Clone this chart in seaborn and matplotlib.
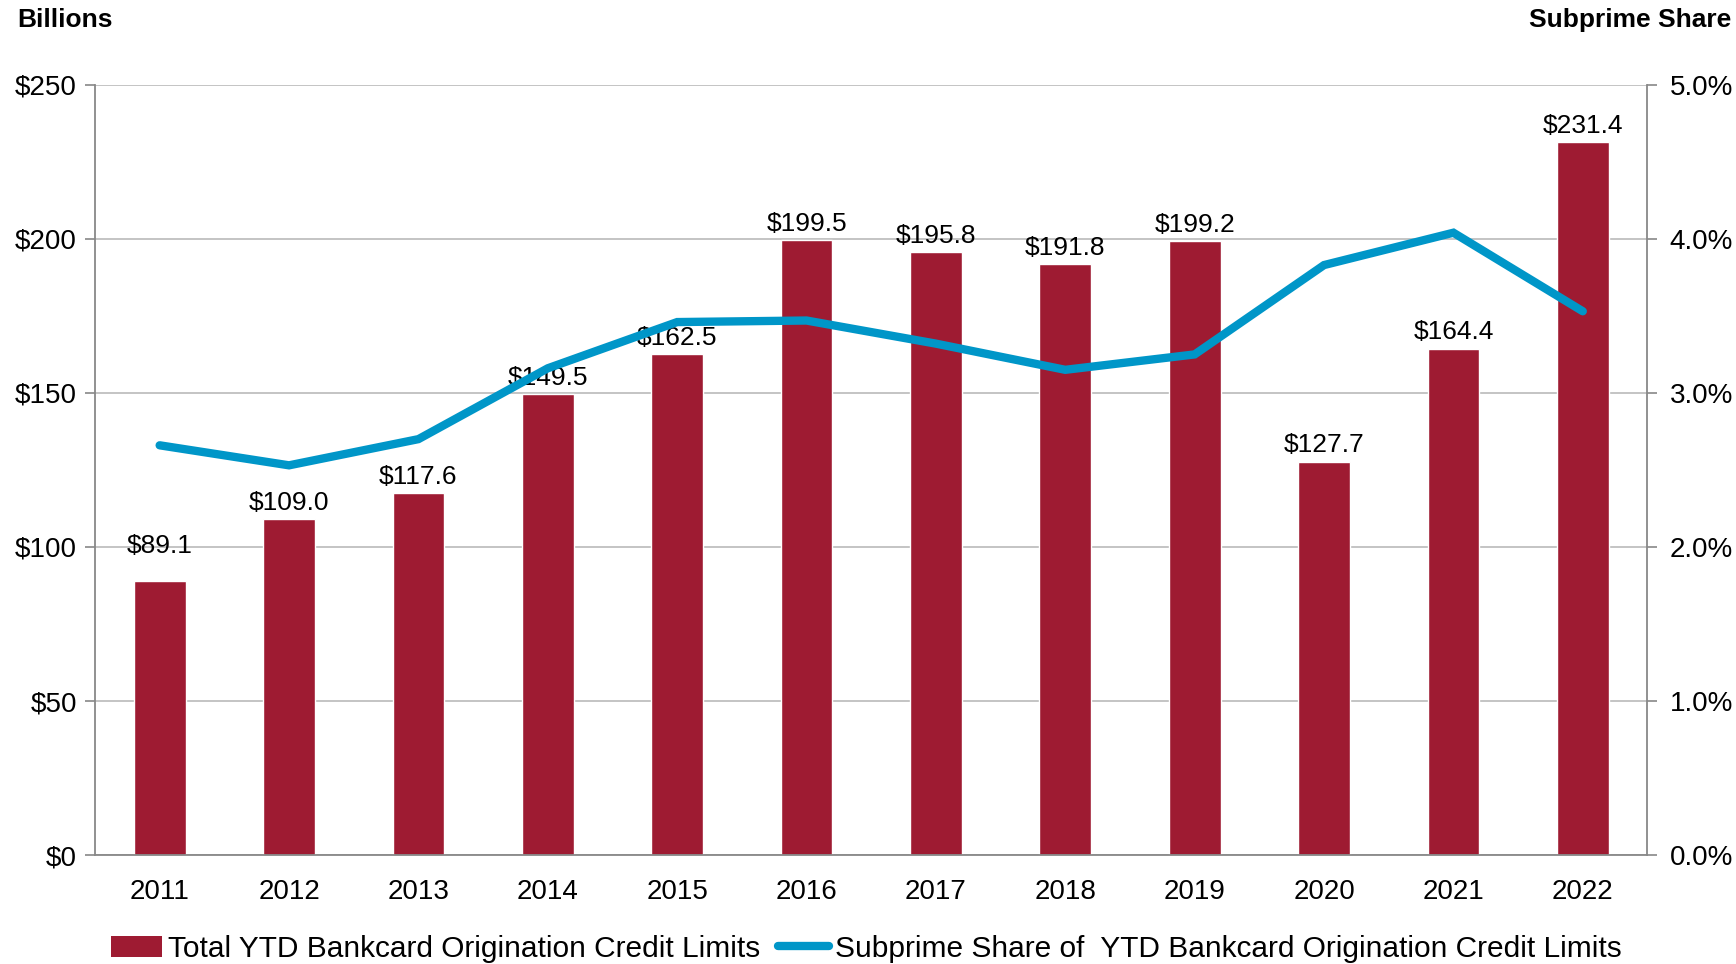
import matplotlib
matplotlib.use("Agg")
import matplotlib.pyplot as plt
import seaborn as sns
import pandas as pd
import numpy as np
from matplotlib.lines import Line2D
from matplotlib.patches import Patch

years = ["2011", "2012", "2013", "2014", "2015", "2016", "2017", "2018", "2019", "2020", "2021", "2022"]
credit_limits = [89.1, 109.0, 117.6, 149.5, 162.5, 199.5, 195.8, 191.8, 199.2, 127.7, 164.4, 231.4]
subprime_share = [2.66, 2.53, 2.70, 3.16, 3.46, 3.47, 3.32, 3.15, 3.25, 3.83, 4.04, 3.53]
left_ticks = [0, 50, 100, 150, 200, 250]
right_ticks = [0.0, 1.0, 2.0, 3.0, 4.0, 5.0]

bar_label = "Total YTD Bankcard Origination Credit Limits"
line_label = "Subprime Share of  YTD Bankcard Origination Credit Limits"

BAR_COLOR = "#9E1B32"
LINE_COLOR = "#0096C8"

sns.set_theme(style="white")
plt.rcParams["font.family"] = ["Liberation Sans", "DejaVu Sans"]
plt.rcParams["text.color"] = "black"
plt.rcParams["xtick.color"] = "black"
plt.rcParams["ytick.color"] = "black"

df = pd.DataFrame({"year": years, "limits": credit_limits, "share": subprime_share})

fig = plt.figure(figsize=(17.36, 9.64), dpi=100)
ax = fig.add_axes([0.0547, 0.113, 0.8943, 0.799])

sns.barplot(data=df, x="year", y="limits", color=BAR_COLOR, width=0.4,
            saturation=1, ax=ax, zorder=2)
ax.set_ylim(0, 250)
ax.set_xlim(-0.5, len(years) - 0.5)
ax.set_yticks(left_ticks)
ax.set_yticklabels([f"${v}" for v in left_ticks], fontsize=20)
ax.set_xlabel("")
ax.set_ylabel("")
ax.yaxis.grid(True, color="#BFBFBF", linewidth=1.3, zorder=0)
ax.set_axisbelow(True)
ax.tick_params(axis="x", which="major", length=0, labelsize=20, pad=17, labelcolor="black")
ax.set_xticks(np.arange(-0.5, len(years), 1.0), minor=True)
ax.tick_params(axis="x", which="minor", length=7, width=1.2, color="#888888", direction="out")
ax.tick_params(axis="y", length=7, width=1.2, color="#888888", direction="out", pad=6, labelcolor="black")
for s in ["top", "right"]:
    ax.spines[s].set_visible(False)
for s in ["left", "bottom"]:
    ax.spines[s].set_color("#888888")
    ax.spines[s].set_linewidth(1.3)

for i, v in enumerate(credit_limits):
    ax.annotate(f"${v:.1f}", (i, v), xytext=(0, 16 if i == 0 else 3), textcoords="offset points",
                ha="center", va="bottom", fontsize=19, color="black", zorder=5)

ax2 = ax.twinx()
sns.lineplot(data=df, x="year", y="share", color=LINE_COLOR, linewidth=6,
             sort=False, ax=ax2, solid_capstyle="round", solid_joinstyle="miter", zorder=4)
ax2.set_ylim(0, 5)
ax2.set_yticks(right_ticks)
ax2.set_yticklabels([f"{v:.1f}%" for v in right_ticks], fontsize=20)
ax2.set_ylabel("")
ax2.set_xlabel("")
ax2.tick_params(axis="y", length=7, width=1.2, color="#888888", direction="out", pad=9, labelcolor="black")
for s in ["top", "left", "bottom"]:
    ax2.spines[s].set_visible(False)
ax2.spines["right"].set_color("#888888")
ax2.spines["right"].set_linewidth(1.3)
ax2.set_xlim(-0.5, len(years) - 0.5)

fig.text(0.010, 0.979, "Billions", fontsize=19, fontweight="bold", ha="left", va="center", color="black")
fig.text(0.997, 0.979, "Subprime Share", fontsize=19, fontweight="bold", ha="right", va="center", color="black")

handles = [Patch(facecolor=BAR_COLOR, edgecolor="none"),
           Line2D([0], [0], color=LINE_COLOR, linewidth=6, solid_capstyle="round")]
fig.legend(handles, [bar_label, line_label], loc="center", bbox_to_anchor=(0.499, 0.016),
           ncol=2, frameon=False, fontsize=21.5, handlelength=1.7, handletextpad=0.2,
           columnspacing=0.6, borderaxespad=0, labelcolor="black")

fig.savefig("out.png", dpi=100)
